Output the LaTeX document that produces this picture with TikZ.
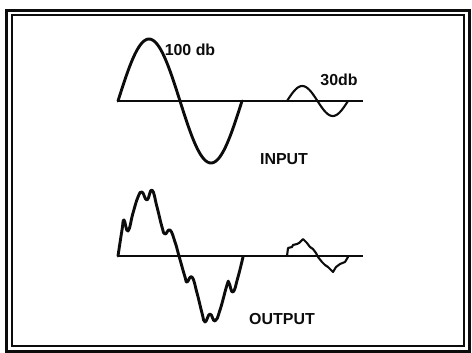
\documentclass[tikz,border=0pt]{standalone}
\usepackage{fontspec}
\setmainfont{Liberation Sans}
\usepackage{tikz}
\usetikzlibrary{positioning}
\definecolor{InkColor}{RGB}{12,12,12}

\tikzset{
  wave/.style={InkColor, line width=2.9bp, line join=round, line cap=round},
  thinwave/.style={InkColor, line width=2.1bp, line join=round, line cap=round},
  baseline/.style={InkColor, line width=1.7bp},
  lbl/.style={InkColor, font=\fontsize{16}{19}\selectfont\bfseries, inner sep=0pt}
}

\begin{document}
\begin{tikzpicture}[x=1bp, y=-1bp]
        \useasboundingbox (0,0) rectangle (472,352);
        % double frame
        \draw[InkColor, line width=3bp] (6,10) rectangle (469,351);
        \draw[InkColor, line width=2.4bp] (12,15) rectangle (464,346);
        % base lines
        \coordinate (inL) at (118,101); \coordinate (inR) at (363,101);
        \coordinate (outL) at (118,256); \coordinate (outR) at (363,256);
        \draw[baseline] (inL)--(inR);
        \draw[baseline] (outL)--(outR);
        % input waves
        \draw[wave] plot[domain=118:242, samples=90] (\x, {101-62*sin(2.9032*(\x-118))});
        \draw[thinwave] plot[domain=287:348, samples=60] (\x, {101-15*sin(5.9016*(\x-287))});
        % output waves
        \draw[wave] plot[smooth, tension=0.8] coordinates {(118,256) (122,230) (124,220) (128,231) (133,213) (138,197) (142,192) (147,200) (152,190) (157,207) (162,227) (165,234) (170,230) (175,242) (179,256) (185,277) (187,282) (192,277) (197,293) (202,313) (205,322) (210,314) (215,321) (220,310) (227,285) (229,283) (233,292) (238,277) (243,257)};
        \draw[thinwave] plot coordinates {(287,256) (288,248) (292,247) (293,245) (297,244) (299,243) (303,239) (307,243) (310,247) (313,249) (316,253) (318,257) (322,262) (325,265) (328,267) (333,272) (336,267) (340,264) (345,262) (348,257)};
        % labels
        \node[lbl] (loud) at (190,50) {100 db};
        \node[lbl] (soft) at (339,80) {30db};
        \node[lbl] (inlbl) at (284,159) {INPUT};
        \node[lbl] (outlbl) at (282,319) {OUTPUT};
      \end{tikzpicture}
\end{document}
